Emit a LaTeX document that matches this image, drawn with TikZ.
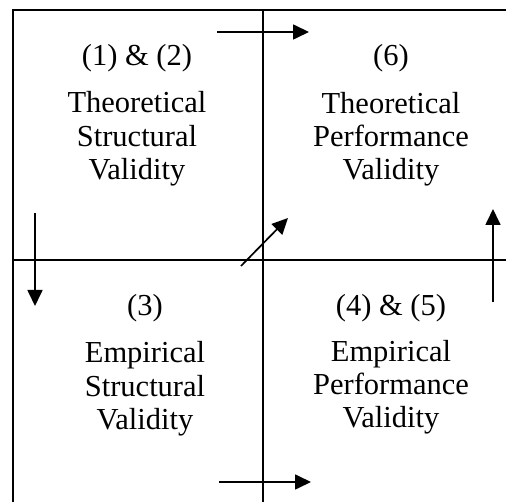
\documentclass[tikz,border=0pt]{standalone}
\usepackage{fontspec}
\setmainfont{Liberation Serif}
\usetikzlibrary{arrows.meta}
\begin{document}
\begin{tikzpicture}[x=1pt,y=-1pt,
  frame/.style={line width=1.9pt},
  flow/.style={line width=1.7pt,-{Triangle[length=16pt,width=15pt]}},
  txt/.style={anchor=base,inner sep=0pt,font=\fontsize{30.5}{34}\selectfont}]
\useasboundingbox (0,0) rectangle (506,502);
% frame and cross
\coordinate (tl) at (13,10);
\coordinate (tr) at (506,10);
\coordinate (bl) at (13,502);
\coordinate (vt) at (263,10);
\coordinate (vb) at (263,502);
\coordinate (hl) at (13,260);
\coordinate (hr) at (506,260);
\draw[frame] (bl) -- (tl) -- (tr);
\draw[frame] (vt) -- (vb);
\draw[frame] (hl) -- (hr);
% arrows
\coordinate (a1s) at (217,32); \coordinate (a1e) at (309,32);
\coordinate (a2s) at (219,482); \coordinate (a2e) at (311,482);
\coordinate (a3s) at (35,213); \coordinate (a3e) at (35,306);
\coordinate (a4s) at (493,302); \coordinate (a4e) at (493,209);
\coordinate (a5s) at (241,266); \coordinate (a5e) at (288,218);
\draw[flow] (a1s) -- (a1e);
\draw[flow] (a2s) -- (a2e);
\draw[flow] (a3s) -- (a3e);
\draw[flow] (a4s) -- (a4e);
\draw[flow] (a5s) -- (a5e);
% quadrant 1
\node[txt] (q1a) at (137,66) {(1) \& (2)};
\node[txt] (q1b) at (137,113) {Theoretical};
\node[txt] (q1c) at (137,147) {Structural};
\node[txt] (q1d) at (137,180) {Validity};
% quadrant 2
\node[txt] (q2a) at (391,66) {(6)};
\node[txt] (q2b) at (391,114) {Theoretical};
\node[txt] (q2c) at (391,147) {Performance};
\node[txt] (q2d) at (391,180) {Validity};
% quadrant 3
\node[txt] (q3a) at (145,316) {(3)};
\node[txt] (q3b) at (145,363) {Empirical};
\node[txt] (q3c) at (145,396) {Structural};
\node[txt] (q3d) at (145,429) {Validity};
% quadrant 4
\node[txt] (q4a) at (391,316) {(4) \& (5)};
\node[txt] (q4b) at (391,362) {Empirical};
\node[txt] (q4c) at (391,395) {Performance};
\node[txt] (q4d) at (391,428) {Validity};
\end{tikzpicture}
\end{document}
